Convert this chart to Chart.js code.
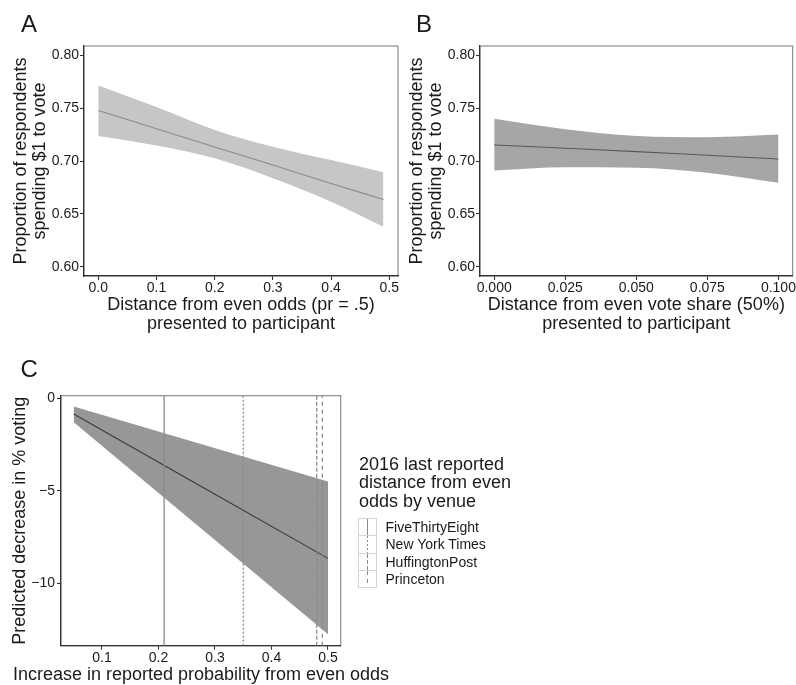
<!DOCTYPE html>
<html>
<head>
<meta charset="utf-8">
<script src="https://cdn.jsdelivr.net/npm/chart.js@4.4.1/dist/chart.umd.min.js"></script>
<style>
body{margin:0;background:#fff;font-family:"Liberation Sans",Arial,sans-serif;color:#1a1a1a}
#wrap{position:relative;width:796px;height:685px;overflow:hidden;background:#fff}
canvas{position:absolute}
.tag{position:absolute;font-size:24px;line-height:24px}
#legTitle{position:absolute;left:359px;top:454.7px;font-size:18px;line-height:18.5px}
#legendC{position:absolute;left:358px;top:518px}
.row{display:flex;align-items:center;height:18.3px}
.row + .row{margin-top:-1px}
.key{position:relative;box-sizing:border-box;width:18.5px;height:18.3px;border:1px solid #d4d4d4}
.key i{position:absolute;left:7.5px;top:0;bottom:0;width:1.4px}
.lab{margin-left:9px;font-size:14px}
#xTitleC{position:absolute;left:0;width:402px;top:663.8px;text-align:center;font-size:18px;line-height:20px;white-space:nowrap}
</style>
</head>
<body>
<div id="wrap">
  <canvas id="chartA" width="400" height="340" style="left:0;top:0"></canvas>
  <canvas id="chartB" width="396" height="340" style="left:400px;top:0"></canvas>
  <canvas id="chartC" width="400" height="345" style="left:0;top:340px"></canvas>
  <div class="tag" style="left:21px;top:11.5px">A</div>
  <div class="tag" style="left:416px;top:11.5px">B</div>
  <div class="tag" style="left:20.5px;top:357px">C</div>
  <div id="legTitle">2016 last reported<br>distance from even<br>odds by venue</div>
  <div id="legendC"></div>
  <div id="xTitleC">Increase in reported probability from even odds</div>
</div>
<script>
// panel A: distance from even odds
const xA = [0, 0.1, 0.2, 0.3, 0.4, 0.49];
const fitA = [0.7478, 0.7305, 0.7133, 0.6962, 0.6788, 0.6636];
const upperA = [0.7715, 0.7510, 0.7294, 0.7136, 0.7009, 0.6893];
const lowerA = [0.7237, 0.7146, 0.7025, 0.6836, 0.6614, 0.6377];
const xTicksA = [0, 0.1, 0.2, 0.3, 0.4, 0.5];
const yTicksAB = [0.60, 0.65, 0.70, 0.75, 0.80];

// panel B: distance from even vote share
const xB = [0, 0.025, 0.05, 0.075, 0.1];
const fitB = [0.7152, 0.7121, 0.7089, 0.7054, 0.7019];
const upperB = [0.7399, 0.7301, 0.7237, 0.7225, 0.7250];
const lowerB = [0.6911, 0.6940, 0.6937, 0.6889, 0.6794];
const xTicksB = [0, 0.025, 0.05, 0.075, 0.1];

// panel C: predicted decrease in % voting
const xC = [0.05, 0.5];
const fitC = [-0.85, -8.65];
const upperC = [-0.45, -4.5];
const lowerC = [-1.3, -12.75];
const xTicksC = [0.1, 0.2, 0.3, 0.4, 0.5];
const yTicksC = [0, -5, -10];
const venues = ['FiveThirtyEight', 'New York Times', 'HuffingtonPost', 'Princeton'];
const venueDistance = [0.21, 0.35, 0.48, 0.49];

// line styles for the venues (ggplot linetypes solid, 22, 42, 44)
const venueDash = [[], [2, 2], [4, 2], [4, 4]];
const venueKeyCss = [
  '#8a8a8a',
  'repeating-linear-gradient(to bottom,#8a8a8a 0 2px,transparent 2px 4px)',
  'repeating-linear-gradient(to bottom,#8a8a8a 0 4px,transparent 4px 6px)',
  'repeating-linear-gradient(to bottom,#8a8a8a 0 4px,transparent 4px 8px)'
];

const FONT = '"Liberation Sans", Arial, sans-serif';
const INK = '#1a1a1a';

const framePlugin = {
  id: 'frame',
  beforeDraw(chart) {
    const {ctx, chartArea: a} = chart;
    ctx.save();
    ctx.strokeStyle = '#8c8c8c';
    ctx.lineWidth = 1.2;
    ctx.strokeRect(a.left, a.top, a.right - a.left, a.bottom - a.top);
    ctx.restore();
  }
};

function pts(xs, ys) {
  return xs.map((x, i) => ({x: x, y: ys[i]}));
}

function axis(o) {
  const ax = {
    type: 'linear',
    min: o.min,
    max: o.max,
    afterFit: s => { if (o.horizontal) s.height = o.size; else s.width = o.size; },
    afterBuildTicks: s => { s.ticks = o.ticks.map(v => ({value: v})); },
    ticks: {
      autoSkip: false,
      maxRotation: 0,
      padding: o.pad,
      color: INK,
      font: {family: FONT, size: 14},
      callback: o.fmt
    },
    grid: {drawOnChartArea: false, drawTicks: true, tickLength: 4, tickColor: '#333', tickWidth: 1.1},
    border: {color: '#333', width: 1.2},
    title: {display: false}
  };
  if (o.title) {
    ax.title = {
      display: true,
      text: o.title,
      color: INK,
      font: {family: FONT, size: 18, lineHeight: 1.05},
      padding: o.titlePad
    };
  }
  return ax;
}

function bandSets(xs, fit, up, lo, lineColor, bandColor) {
  return [
    {data: pts(xs, fit), borderColor: lineColor, borderWidth: 1.1, pointRadius: 0, cubicInterpolationMode: 'monotone', fill: false},
    {data: pts(xs, up), borderColor: 'transparent', borderWidth: 0, pointRadius: 0, cubicInterpolationMode: 'monotone', fill: false},
    {data: pts(xs, lo), borderColor: 'transparent', borderWidth: 0, pointRadius: 0, cubicInterpolationMode: 'monotone', fill: '-1', backgroundColor: bandColor}
  ];
}

const baseOptions = {
  responsive: false,
  animation: false,
  events: [],
  plugins: {legend: {display: false}, tooltip: {enabled: false}}
};

new Chart(document.getElementById('chartA'), {
  type: 'line',
  data: {datasets: bandSets(xA, fitA, upperA, lowerA, '#8c8c8c', '#c6c6c6')},
  options: Object.assign({}, baseOptions, {
    layout: {padding: {top: 46, right: 2, left: 0, bottom: 0}},
    scales: {
      x: axis({horizontal: true, size: 64, min: -0.0246, max: 0.515, ticks: xTicksA, pad: 0,
        fmt: v => v.toFixed(1),
        title: ['Distance from even odds (pr = .5)', 'presented to participant'], titlePad: {bottom: 6.5}}),
      y: axis({size: 84, min: 0.5912, max: 0.8088, ticks: yTicksAB, pad: 1,
        fmt: v => v.toFixed(2),
        title: ['Proportion of respondents', 'spending $1 to vote'], titlePad: {top: 11.5}})
    }
  }),
  plugins: [framePlugin]
});

new Chart(document.getElementById('chartB'), {
  type: 'line',
  data: {datasets: bandSets(xB, fitB, upperB, lowerB, '#5a5a5a', '#a6a6a6')},
  options: Object.assign({}, baseOptions, {
    layout: {padding: {top: 46, right: 1.5, left: 0, bottom: 0}},
    scales: {
      x: axis({horizontal: true, size: 64, min: -0.005, max: 0.105, ticks: xTicksB, pad: 0,
        fmt: v => v.toFixed(3),
        title: ['Distance from even vote share (50%)', 'presented to participant'], titlePad: {bottom: 6.5}}),
      y: axis({size: 80, min: 0.5912, max: 0.8088, ticks: yTicksAB, pad: 1,
        fmt: v => v.toFixed(2),
        title: ['Proportion of respondents', 'spending $1 to vote'], titlePad: {top: 7.5}})
    }
  }),
  plugins: [framePlugin]
});

const yMinC = -13.37, yMaxC = 0.14;
const venueSets = venues.map((name, i) => ({
  label: name,
  data: [{x: venueDistance[i], y: yMinC}, {x: venueDistance[i], y: yMaxC}],
  borderColor: '#8a8a8a',
  borderWidth: 1.3,
  borderDash: venueDash[i],
  pointRadius: 0,
  fill: false
}));

new Chart(document.getElementById('chartC'), {
  type: 'line',
  data: {datasets: venueSets.concat(bandSets(xC, fitC, upperC, lowerC, '#3a3a3a', '#979797'))},
  options: Object.assign({}, baseOptions, {
    layout: {padding: {top: 55.7, right: 59.3, left: 0, bottom: 0}},
    scales: {
      x: axis({horizontal: true, size: 39.3, min: 0.0275, max: 0.5225, ticks: xTicksC, pad: 0,
        fmt: v => v.toFixed(1)}),
      y: axis({size: 61, min: yMinC, max: yMaxC, ticks: yTicksC, pad: 2,
        fmt: v => v < 0 ? '\u2212' + Math.abs(v) : String(v),
        title: 'Predicted decrease in % voting', titlePad: {top: 10.5}})
    }
  }),
  plugins: [framePlugin]
});

// legend for panel C
const legend = document.getElementById('legendC');
venues.forEach((name, i) => {
  const row = document.createElement('div');
  row.className = 'row';
  row.innerHTML = '<span class="key"><i style="background:' + venueKeyCss[i] + '"></i></span><span class="lab">' + name + '</span>';
  legend.appendChild(row);
});
</script>
</body>
</html>
